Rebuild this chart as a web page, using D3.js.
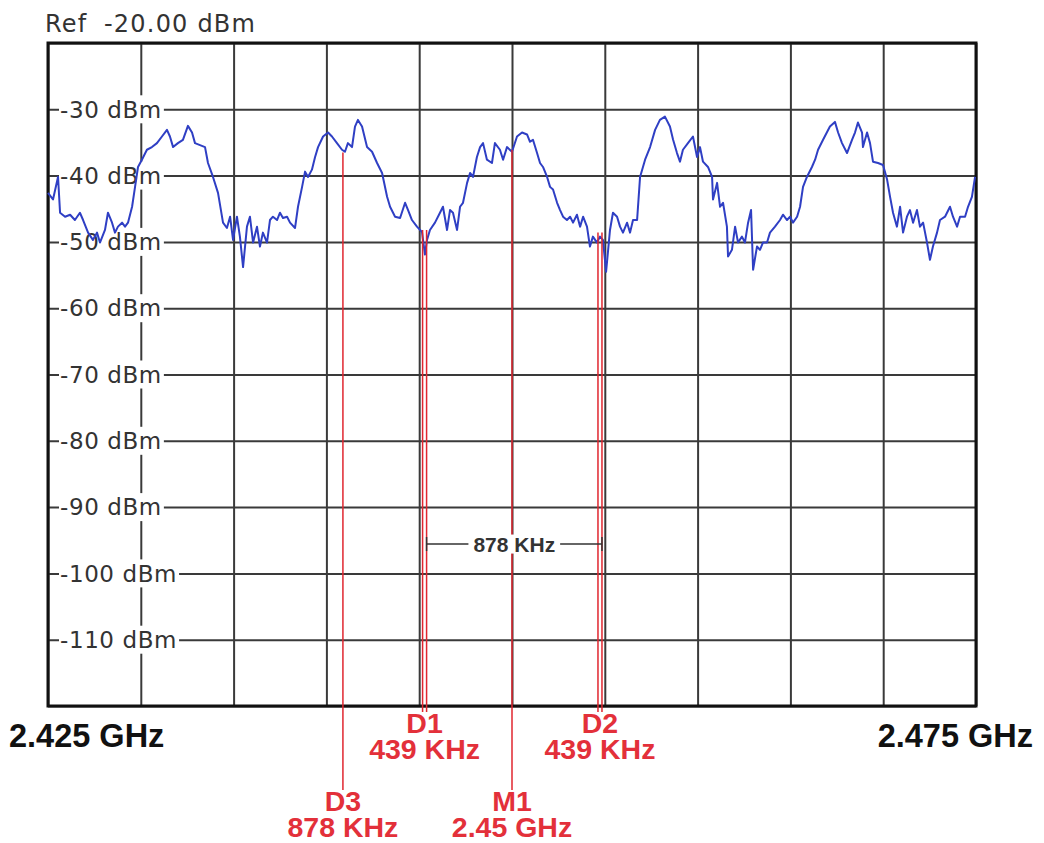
<!DOCTYPE html>
<meta charset="utf-8">
<style>

body {
  margin: 0;
  background: #fff;
}

svg {
  display: block;
}

.grid line {
  stroke: #3a3a3a;
  stroke-width: 2;
}

.grid path {
  display: none;
}

.level-label {
  font-family: "DejaVu Sans", Verdana, sans-serif;
  font-size: 23px;
  letter-spacing: 0.6px;
  fill: #333;
}

.ref-label {
  font-family: "DejaVu Sans", Verdana, sans-serif;
  font-size: 24px;
  letter-spacing: 1.2px;
  fill: #333;
}

.trace {
  fill: none;
  stroke: #2f3fc4;
  stroke-width: 2;
  stroke-linejoin: round;
}

.marker {
  stroke: #e0262f;
  stroke-width: 1.5;
}

.marker-label {
  font-family: "Liberation Sans", Arial, sans-serif;
  font-weight: bold;
  font-size: 28.5px;
  fill: #e3303a;
  text-anchor: middle;
}

.span-label {
  font-family: "Liberation Sans", Arial, sans-serif;
  font-weight: bold;
  font-size: 32.5px;
  fill: #111;
}

</style>
<svg width="1044" height="843"></svg>
<script src="https://d3js.org/d3.v7.min.js"></script>
<script>

// trace: frequency (MHz) and level (dBm)
var traceMHz = [
  2425.00, 2425.27, 2425.54, 2425.65, 2425.92, 2426.19, 2426.45, 2426.72, 2426.89, 2427.16,
  2427.42, 2427.64, 2427.80, 2428.07, 2428.23, 2428.45, 2428.61, 2428.77, 2428.99, 2429.15,
  2429.31, 2429.53, 2429.69, 2429.85, 2430.06, 2430.33, 2430.60, 2430.87, 2431.14, 2431.41,
  2431.57, 2431.74, 2432.00, 2432.27, 2432.54, 2432.76, 2432.92, 2433.19, 2433.46, 2433.62,
  2433.89, 2434.16, 2434.43, 2434.64, 2434.81, 2434.97, 2435.18, 2435.34, 2435.51, 2435.72,
  2435.88, 2436.05, 2436.26, 2436.42, 2436.58, 2436.80, 2436.96, 2437.12, 2437.34, 2437.50,
  2437.66, 2437.88, 2438.04, 2438.31, 2438.47, 2438.69, 2438.85, 2439.01, 2439.22, 2439.39,
  2439.55, 2439.82, 2440.09, 2440.30, 2440.57, 2440.84, 2441.00, 2441.16, 2441.38, 2441.54,
  2441.70, 2441.92, 2442.19, 2442.46, 2442.73, 2443.00, 2443.27, 2443.43, 2443.70, 2443.97,
  2444.24, 2444.40, 2444.61, 2444.88, 2445.15, 2445.31, 2445.42, 2445.58, 2445.85, 2446.12,
  2446.28, 2446.50, 2446.66, 2446.82, 2447.04, 2447.20, 2447.36, 2447.58, 2447.74, 2447.90,
  2448.11, 2448.28, 2448.44, 2448.65, 2448.92, 2449.08, 2449.35, 2449.52, 2449.73, 2450.00,
  2450.27, 2450.54, 2450.81, 2450.97, 2451.13, 2451.35, 2451.51, 2451.67, 2451.89, 2452.05,
  2452.21, 2452.43, 2452.59, 2452.75, 2452.96, 2453.13, 2453.29, 2453.50, 2453.67, 2453.83,
  2454.04, 2454.20, 2454.36, 2454.58, 2454.74, 2454.90, 2455.07, 2455.28, 2455.44, 2455.66,
  2455.82, 2455.98, 2456.20, 2456.36, 2456.52, 2456.74, 2456.90, 2457.17, 2457.44, 2457.71,
  2457.97, 2458.24, 2458.51, 2458.68, 2458.89, 2459.05, 2459.21, 2459.48, 2459.75, 2459.97,
  2460.13, 2460.29, 2460.56, 2460.78, 2460.83, 2461.05, 2461.21, 2461.37, 2461.58, 2461.64,
  2461.85, 2462.02, 2462.18, 2462.39, 2462.55, 2462.72, 2462.88, 2462.99, 2463.20, 2463.36,
  2463.52, 2463.74, 2463.90, 2464.17, 2464.44, 2464.60, 2464.82, 2464.98, 2465.14, 2465.36,
  2465.52, 2465.68, 2465.89, 2466.16, 2466.33, 2466.49, 2466.76, 2467.13, 2467.40, 2467.57,
  2467.78, 2468.05, 2468.32, 2468.48, 2468.64, 2468.86, 2468.91, 2469.13, 2469.29, 2469.45,
  2469.72, 2469.99, 2470.21, 2470.37, 2470.53, 2470.74, 2470.91, 2471.07, 2471.28, 2471.44,
  2471.61, 2471.82, 2471.98, 2472.15, 2472.36, 2472.52, 2472.68, 2472.90, 2473.06, 2473.33,
  2473.60, 2473.76, 2473.98, 2474.14, 2474.41, 2474.57, 2474.78, 2474.95
];

var traceDbm = [
  -42.6, -43.6, -40.2, -45.6, -46.2, -45.9, -46.7, -45.6, -46.7, -48.6,
  -49.7, -48.6, -50.1, -48.2, -45.6, -47.1, -48.6, -47.7, -47.1, -47.7,
  -47.1, -44.7, -41.7, -38.7, -37.6, -36.1, -35.7, -35.1, -34.1, -33.1,
  -34.1, -35.7, -35.1, -34.6, -32.5, -33.5, -35.1, -35.4, -35.7, -38.1,
  -40.2, -42.6, -47.1, -47.9, -46.2, -49.7, -46.2, -49.2, -53.8, -47.7,
  -46.2, -50.1, -47.7, -50.7, -48.6, -50.1, -46.7, -46.2, -46.7, -45.6,
  -46.4, -46.2, -47.1, -47.9, -44.7, -41.7, -39.4, -40.2, -39.1, -37.2,
  -35.7, -34.1, -33.5, -34.1, -35.1, -36.1, -36.4, -35.1, -35.7, -32.6,
  -31.6, -32.6, -35.7, -36.4, -38.1, -39.6, -43.2, -44.7, -46.2, -46.4,
  -44.1, -45.2, -46.7, -47.7, -48.5, -51.9, -49.7, -48.2, -47.1, -45.6,
  -44.7, -48.2, -45.2, -45.6, -48.2, -44.7, -44.1, -41.1, -39.6, -40.2,
  -37.2, -35.7, -35.1, -37.6, -38.1, -35.1, -36.1, -37.6, -35.7, -36.4,
  -34.1, -33.5, -33.8, -34.9, -34.6, -36.6, -38.1, -38.7, -40.2, -41.7,
  -42.1, -44.1, -45.2, -46.2, -46.7, -46.2, -47.1, -45.9, -47.7, -46.2,
  -47.7, -50.7, -49.2, -50.1, -49.2, -49.7, -54.5, -48.2, -45.6, -46.2,
  -47.7, -48.6, -47.1, -48.6, -46.7, -46.7, -40.2, -37.6, -35.7, -33.1,
  -31.6, -31.1, -32.6, -34.6, -36.6, -37.9, -36.1, -35.1, -34.1, -37.2,
  -35.7, -37.9, -38.7, -40.2, -43.6, -41.1, -44.7, -44.1, -47.7, -52.2,
  -51.2, -47.7, -50.1, -49.2, -50.1, -47.1, -45.2, -54.2, -50.7, -51.2,
  -50.1, -50.1, -48.6, -47.7, -46.7, -45.9, -46.7, -46.2, -47.1, -46.2,
  -44.7, -41.7, -40.2, -38.7, -37.6, -36.1, -34.6, -32.6, -31.9, -33.5,
  -35.1, -36.6, -34.6, -33.5, -32.0, -33.5, -35.7, -33.5, -35.1, -37.9,
  -38.1, -38.4, -40.6, -43.2, -45.6, -47.7, -44.7, -48.6, -46.2, -45.2,
  -47.1, -45.2, -47.7, -47.1, -50.1, -52.7, -50.7, -48.6, -46.7, -46.2,
  -44.7, -46.2, -47.7, -46.2, -46.2, -44.7, -43.2, -40.2
];

var levelTicks = [-30, -40, -50, -60, -70, -80, -90, -100, -110];
var levelLabels = ["-30 dBm", "-40 dBm", "-50 dBm", "-60 dBm", "-70 dBm",
                   "-80 dBm", "-90 dBm", "-100 dBm", "-110 dBm"];
var refLabel = ["Ref", "-20.00 dBm"];
var spanLabels = ["2.425 GHz", "2.475 GHz"];

var markerNames  = ["D3", "D1", "M1", "D2"];
var markerValues = ["878 KHz", "439 KHz", "2.45 GHz", "439 KHz"];
var markerMHz    = [2440.89, 2445.29, 2450.00, 2454.74];
var markerDbm    = [-36.5, -48.2, -36.1, -48.6];
var markerRow    = [2, 1, 2, 1];
var deltaLabel = "878 KHz";

var svg = d3.select("svg"),
    margin = {top: 43, right: 68, bottom: 137, left: 48},
    width = +svg.attr("width") - margin.left - margin.right,
    height = +svg.attr("height") - margin.top - margin.bottom;

var x = d3.scaleLinear().domain([2425, 2475]).range([0, width]),
    y = d3.scaleLinear().domain([-120, -20]).range([height, 0]);

var g = svg.append("g")
    .attr("transform", "translate(" + margin.left + "," + margin.top + ")");

// grid
g.append("g")
    .attr("class", "grid")
    .attr("transform", "translate(0," + height + ")")
    .call(d3.axisBottom(x).ticks(10).tickSize(-height).tickFormat(""));

g.append("g")
    .attr("class", "grid")
    .call(d3.axisLeft(y).ticks(10).tickSize(-width).tickFormat(""));

g.append("rect")
    .attr("width", width)
    .attr("height", height)
    .attr("fill", "none")
    .attr("stroke", "#111")
    .attr("stroke-width", 3);

// level labels sit on a white patch over the grid
var lbl = g.selectAll(".level")
    .data(levelTicks)
  .enter().append("g")
    .attr("class", "level")
    .attr("transform", function(d) { return "translate(12," + y(d) + ")"; });

lbl.append("text")
    .attr("class", "level-label")
    .attr("dy", "0.36em")
    .text(function(d, i) { return levelLabels[i]; });

lbl.insert("rect", "text")
    .attr("x", -1)
    .attr("y", -14)
    .attr("height", 28)
    .attr("width", function() { return this.parentNode.querySelector("text").getBBox().width + 3; })
    .attr("fill", "#fff");

// trace
var line = d3.line()
    .x(function(d) { return x(d[0]); })
    .y(function(d) { return y(d[1]); });

g.append("path")
    .datum(d3.zip(traceMHz, traceDbm))
    .attr("class", "trace")
    .attr("d", line);

// markers
var rowBottom = {1: height + 6, 2: height + 84};

markerMHz.forEach(function(f, i) {
  var offs = markerRow[i] === 1 ? [-2, 2] : [0];
  offs.forEach(function(o) {
    g.append("line")
        .attr("class", "marker")
        .attr("x1", x(f) + o)
        .attr("x2", x(f) + o)
        .attr("y1", y(markerDbm[i]))
        .attr("y2", rowBottom[markerRow[i]]);
  });
  var t = g.append("text")
      .attr("class", "marker-label")
      .attr("x", x(f))
      .attr("y", rowBottom[markerRow[i]] + 21);
  t.append("tspan").attr("x", x(f)).text(markerNames[i]);
  t.append("tspan").attr("x", x(f)).attr("dy", 26).text(markerValues[i]);
});

// delta span annotation between D1 and D2
var dy = 501,
    dx1 = x(markerMHz[1]) + 2,
    dx2 = x(markerMHz[3]) + 2;

g.append("line")
    .attr("x1", dx1).attr("x2", dx2)
    .attr("y1", dy).attr("y2", dy)
    .attr("stroke", "#333").attr("stroke-width", 1.5);

[dx1, dx2].forEach(function(px) {
  g.append("line")
      .attr("x1", px).attr("x2", px)
      .attr("y1", dy - 7).attr("y2", dy + 7)
      .attr("stroke", "#333").attr("stroke-width", 1.5);
});

var patch = g.append("rect").attr("fill", "#fff");

var dt = g.append("text")
    .attr("x", (dx1 + dx2) / 2)
    .attr("y", dy)
    .attr("dy", "0.36em")
    .attr("text-anchor", "middle")
    .style("font-family", "'Liberation Sans', Arial, sans-serif")
    .style("font-weight", "bold")
    .style("font-size", "21px")
    .style("fill", "#333")
    .text(deltaLabel);

var bb = dt.node().getBBox();
patch
    .attr("x", bb.x - 5)
    .attr("y", bb.y + 2)
    .attr("width", bb.width + 10)
    .attr("height", bb.height - 4);

// reference level and span labels
svg.append("text")
    .attr("class", "ref-label")
    .attr("x", 45)
    .attr("y", 32)
    .text(refLabel[0]);

svg.append("text")
    .attr("class", "ref-label")
    .attr("x", 104)
    .attr("y", 32)
    .text(refLabel[1]);

svg.append("text")
    .attr("class", "span-label")
    .attr("x", 9)
    .attr("y", 747)
    .text(spanLabels[0]);

svg.append("text")
    .attr("class", "span-label")
    .attr("x", 1033)
    .attr("y", 747)
    .attr("text-anchor", "end")
    .text(spanLabels[1]);

</script>
